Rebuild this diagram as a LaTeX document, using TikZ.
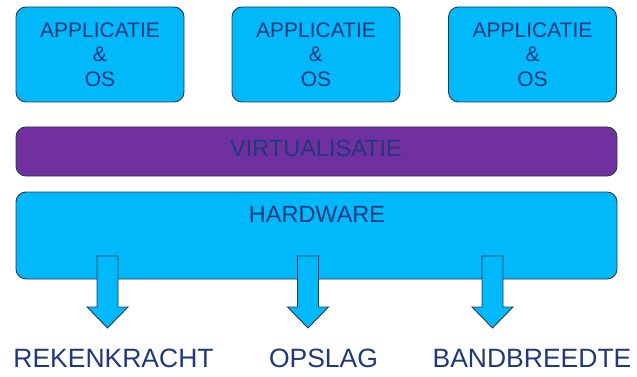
\documentclass[tikz,border=0pt]{standalone}
\usepackage{fontspec}
\setmainfont{Liberation Sans}
\definecolor{boxcyan}{RGB}{0,185,250}
\definecolor{barpurple}{RGB}{112,48,160}
\definecolor{txtblue}{RGB}{32,56,124}
\definecolor{edgecol}{RGB}{50,55,75}
\begin{document}
\begin{tikzpicture}[x=1pt,y=-1pt,
  appbox/.style={draw=edgecol,line width=0.9pt,fill=boxcyan,rounded corners=10pt,
    minimum width=168pt,minimum height=95pt,inner sep=0pt,align=center,
    text=txtblue,font=\fontsize{21}{24.5}\selectfont},
  barbox/.style={draw=edgecol,line width=0.9pt,rounded corners=10pt,inner sep=0pt},
  bartext/.style={anchor=base,text=txtblue,font=\fontsize{23.5}{27}\selectfont,inner sep=0pt},
  bottomtext/.style={anchor=base,text=txtblue,font=\fontsize{26.5}{30}\selectfont,inner sep=0pt},
  fatarrow/.style={draw=edgecol,line width=0.9pt,fill=boxcyan,line join=miter}
]
\useasboundingbox (0,0) rectangle (637,377);
% top boxes
\node[appbox] (app1) at (100,54.5) {APPLICATIE\\\&\\OS};
\node[appbox] (app2) at (316,54.5) {APPLICATIE\\\&\\OS};
\node[appbox] (app3) at (532.5,54.5) {APPLICATIE\\\&\\OS};
% virtualisation bar
\node[barbox,fill=barpurple,minimum width=601pt,minimum height=49pt] (virt) at (316.5,151.5) {};
\node[bartext] (virtlbl) at (316,156.5) {VIRTUALISATIE};
% hardware
\node[barbox,fill=boxcyan,minimum width=601pt,minimum height=87pt] (hw) at (316.5,235.5) {};
\node[bartext] (hwlbl) at (317,222.5) {HARDWARE};
% arrows
\coordinate (a1) at (107.5,256);
\coordinate (a2) at (308,256);
\coordinate (a3) at (492.5,256);
\foreach \c in {a1,a2,a3}{
  \draw[fatarrow] (\c) ++(-10.5,0) -- ++(21,0) -- ++(0,51) -- ++(10,0)
    -- ++(-20.5,21) -- ++(-20.5,-21) -- ++(10,0) -- cycle;
}
% bottom labels
\node[bottomtext] (rek) at (113.5,367) {REKENKRACHT};
\node[bottomtext] (ops) at (323.5,367) {OPSLAG};
\node[bottomtext] (band) at (532,367) {BANDBREEDTE};
\end{tikzpicture}
\end{document}
